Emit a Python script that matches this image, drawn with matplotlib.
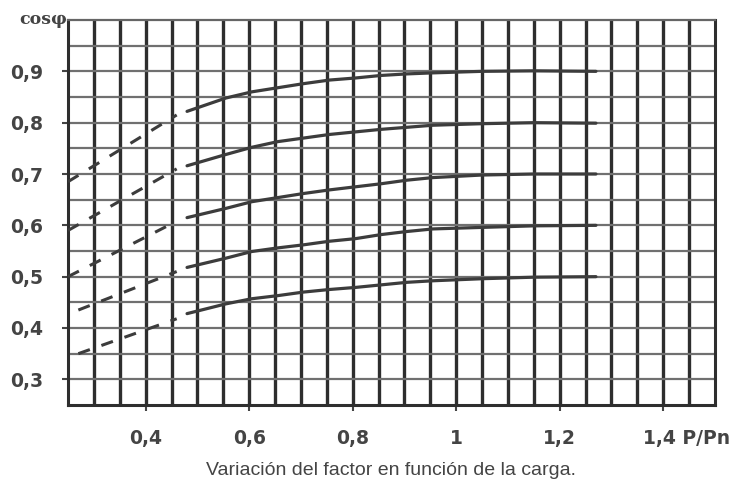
import matplotlib
matplotlib.use("Agg")
import matplotlib.pyplot as plt
import numpy as np

# ---- data ----
load_x = [0.48, 0.555, 0.605, 0.655, 0.705, 0.755, 0.805, 0.855, 0.905, 0.955, 1.05, 1.15, 1.27]
curve_a = [0.822, 0.848, 0.860, 0.868, 0.876, 0.883, 0.887, 0.892, 0.895, 0.897, 0.900, 0.901, 0.900]
curve_b = [0.716, 0.738, 0.752, 0.763, 0.770, 0.777, 0.782, 0.787, 0.791, 0.795, 0.798, 0.800, 0.799]
curve_c = [0.615, 0.633, 0.646, 0.654, 0.662, 0.669, 0.675, 0.681, 0.688, 0.693, 0.698, 0.700, 0.700]
curve_d = [0.518, 0.536, 0.549, 0.556, 0.562, 0.569, 0.574, 0.582, 0.588, 0.593, 0.596, 0.599, 0.600]
curve_e = [0.428, 0.447, 0.457, 0.463, 0.470, 0.475, 0.479, 0.484, 0.489, 0.492, 0.496, 0.499, 0.500]

# dashed (extrapolated) low-load parts: start and end points
dash_x_a = [0.25, 0.46]; dash_a = [0.685, 0.815]
dash_x_b = [0.25, 0.46]; dash_b = [0.590, 0.710]
dash_x_c = [0.25, 0.46]; dash_c = [0.500, 0.608]
dash_x_d = [0.27, 0.46]; dash_d = [0.435, 0.510]
dash_x_e = [0.27, 0.46]; dash_e = [0.350, 0.418]

x_ticks = [0.4, 0.6, 0.8, 1.0, 1.2, 1.4]
x_tick_labels = ["0,4", "0,6", "0,8", "1", "1,2", ""]
last_x_label = "1,4 P/Pn"
y_ticks = [0.3, 0.4, 0.5, 0.6, 0.7, 0.8, 0.9]
y_tick_labels = ["0,3", "0,4", "0,5", "0,6", "0,7", "0,8", "0,9"]

fig = plt.figure(figsize=(7.32, 4.90), dpi=100)
ax = fig.add_axes([68/732, 1-405/490, (715-68)/732, (405-20)/490])
ax.set_xlim(0.25, 1.5)
ax.set_ylim(0.25, 1.0)

# grid
for gx in np.arange(0.30, 1.50, 0.05):
    ax.axvline(gx, color="#2e2e2e", lw=2.4, zorder=1)
for gy in np.arange(0.30, 1.0, 0.05):
    ax.axhline(gy, color="#707070", lw=1.6, zorder=1)

line_color = "#3c3c3c"
for ys in [curve_a, curve_b, curve_c, curve_d, curve_e]:
    ax.plot(load_x, ys, color=line_color, lw=2.3, zorder=3, solid_capstyle="round")
for dx, dy in [(dash_x_a, dash_a), (dash_x_b, dash_b), (dash_x_c, dash_c),
               (dash_x_d, dash_d), (dash_x_e, dash_e)]:
    ax.plot(dx, dy, color=line_color, lw=2.2, zorder=3, linestyle=(0, (4, 4)))

for s in ax.spines.values():
    s.set_color("#2e2e2e")
    s.set_linewidth(2.2)
ax.spines["top"].set_color("#666666")
ax.spines["top"].set_linewidth(1.6)

ax.set_xticks(x_ticks)
ax.set_xticklabels(x_tick_labels)
ax.set_yticks(y_ticks)
ax.set_yticklabels(y_tick_labels)
ax.tick_params(axis="both", direction="out", length=4, width=1.5, color="#444444",
               labelcolor="#444444", labelsize=13.5)
ax.tick_params(axis="x", pad=13.5)
ax.tick_params(axis="y", pad=25.5)
for lab in ax.get_xticklabels() + ax.get_yticklabels():
    lab.set_fontweight("bold")
    lab.set_family("DejaVu Sans")
for lab in ax.get_yticklabels():
    lab.set_horizontalalignment("center")

ax.text(0.25 + (640 - 68) / 515, (405 - 438) / 385, last_x_label,
        transform=ax.get_xaxis_transform(), ha="left", va="center",
        fontsize=13.5, fontweight="bold", color="#444444", family="DejaVu Sans")
ax.text(-0.002, 1.0, "cosφ", transform=ax.transAxes, ha="right", va="center",
        fontsize=12.5, fontweight="bold", color="#444444", family="DejaVu Serif")

fig.text((68+715)/2/732, 1-470/490, "Variación del factor en función de la carga.",
         ha="center", va="center", fontsize=14, color="#444444",
         family="Liberation Sans")

fig.savefig("out.png", dpi=100, facecolor="white")
